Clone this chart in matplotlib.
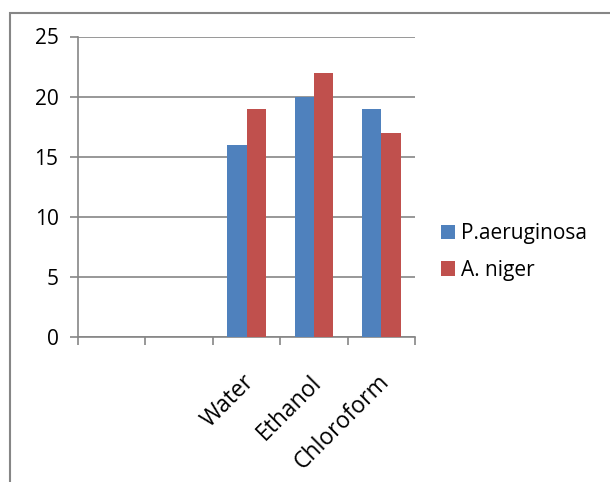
import numpy as np
import matplotlib
matplotlib.use('Agg')
import matplotlib.pyplot as plt
import matplotlib.transforms as mtransforms
from matplotlib.patches import Rectangle

categories = ['', '', 'Water', 'Ethanol', 'Chloroform']
p_aeruginosa = [np.nan, np.nan, 16, 20, 19]
a_niger = [np.nan, np.nan, 19, 22, 17]
series_names = ['P.aeruginosa', 'A. niger']
y_ticks = [0, 5, 10, 15, 20, 25]

plt.rcParams['font.family'] = ['Open Sans', 'DejaVu Sans']

grey = '#868686'
fig = plt.figure(figsize=(6.1, 4.82), dpi=100)
ax = fig.add_axes([78 / 610, 1 - 337 / 482, 337 / 610, 300.5 / 482])

x = np.arange(len(categories))
w = 1 / 3.5
ax.bar(x - w / 2, p_aeruginosa, w, color='#4F81BD', label=series_names[0], zorder=3)
ax.bar(x + w / 2, a_niger, w, color='#C0504D', label=series_names[1], zorder=3)

ax.set_xlim(-0.5, len(categories) - 0.5)
ax.set_ylim(0, 25)
ax.set_yticks(y_ticks)
ax.tick_params(axis='y', length=6, width=1.2, color=grey, labelsize=15, pad=8)
ax.yaxis.grid(True, color=grey, linewidth=1.2, zorder=0)

ax.set_xticks(x)
ax.set_xticklabels(categories, rotation=45, ha='right', rotation_mode='anchor', fontsize=16.5)
ax.tick_params(axis='x', length=0, pad=24)
shift = mtransforms.ScaledTranslation(-4 / 100, 0, fig.dpi_scale_trans)
for lbl in ax.get_xticklabels():
    lbl.set_transform(lbl.get_transform() + shift)
ax.set_xticks(np.arange(len(categories) + 1) - 0.5, minor=True)
ax.tick_params(axis='x', which='minor', length=6, width=1.2, color=grey)

for s in ['top', 'right']:
    ax.spines[s].set_visible(False)
for s in ['left', 'bottom']:
    ax.spines[s].set_color(grey)
    ax.spines[s].set_linewidth(1.2)

fig.legend(loc='center left', bbox_to_anchor=(422 / 610, 1 - 252 / 482),
           frameon=False, fontsize=15, handlelength=0.7, handleheight=0.7,
           handletextpad=0.25, labelspacing=0.75)

# chart-area frame (only top and left edges fall inside the image)
fig.patches.append(Rectangle((10 / 610, -0.1), 1.0, 1.1 - 13 / 482, transform=fig.transFigure,
                             fill=False, edgecolor=grey, linewidth=1.5))

fig.savefig('out.png', dpi=100)
